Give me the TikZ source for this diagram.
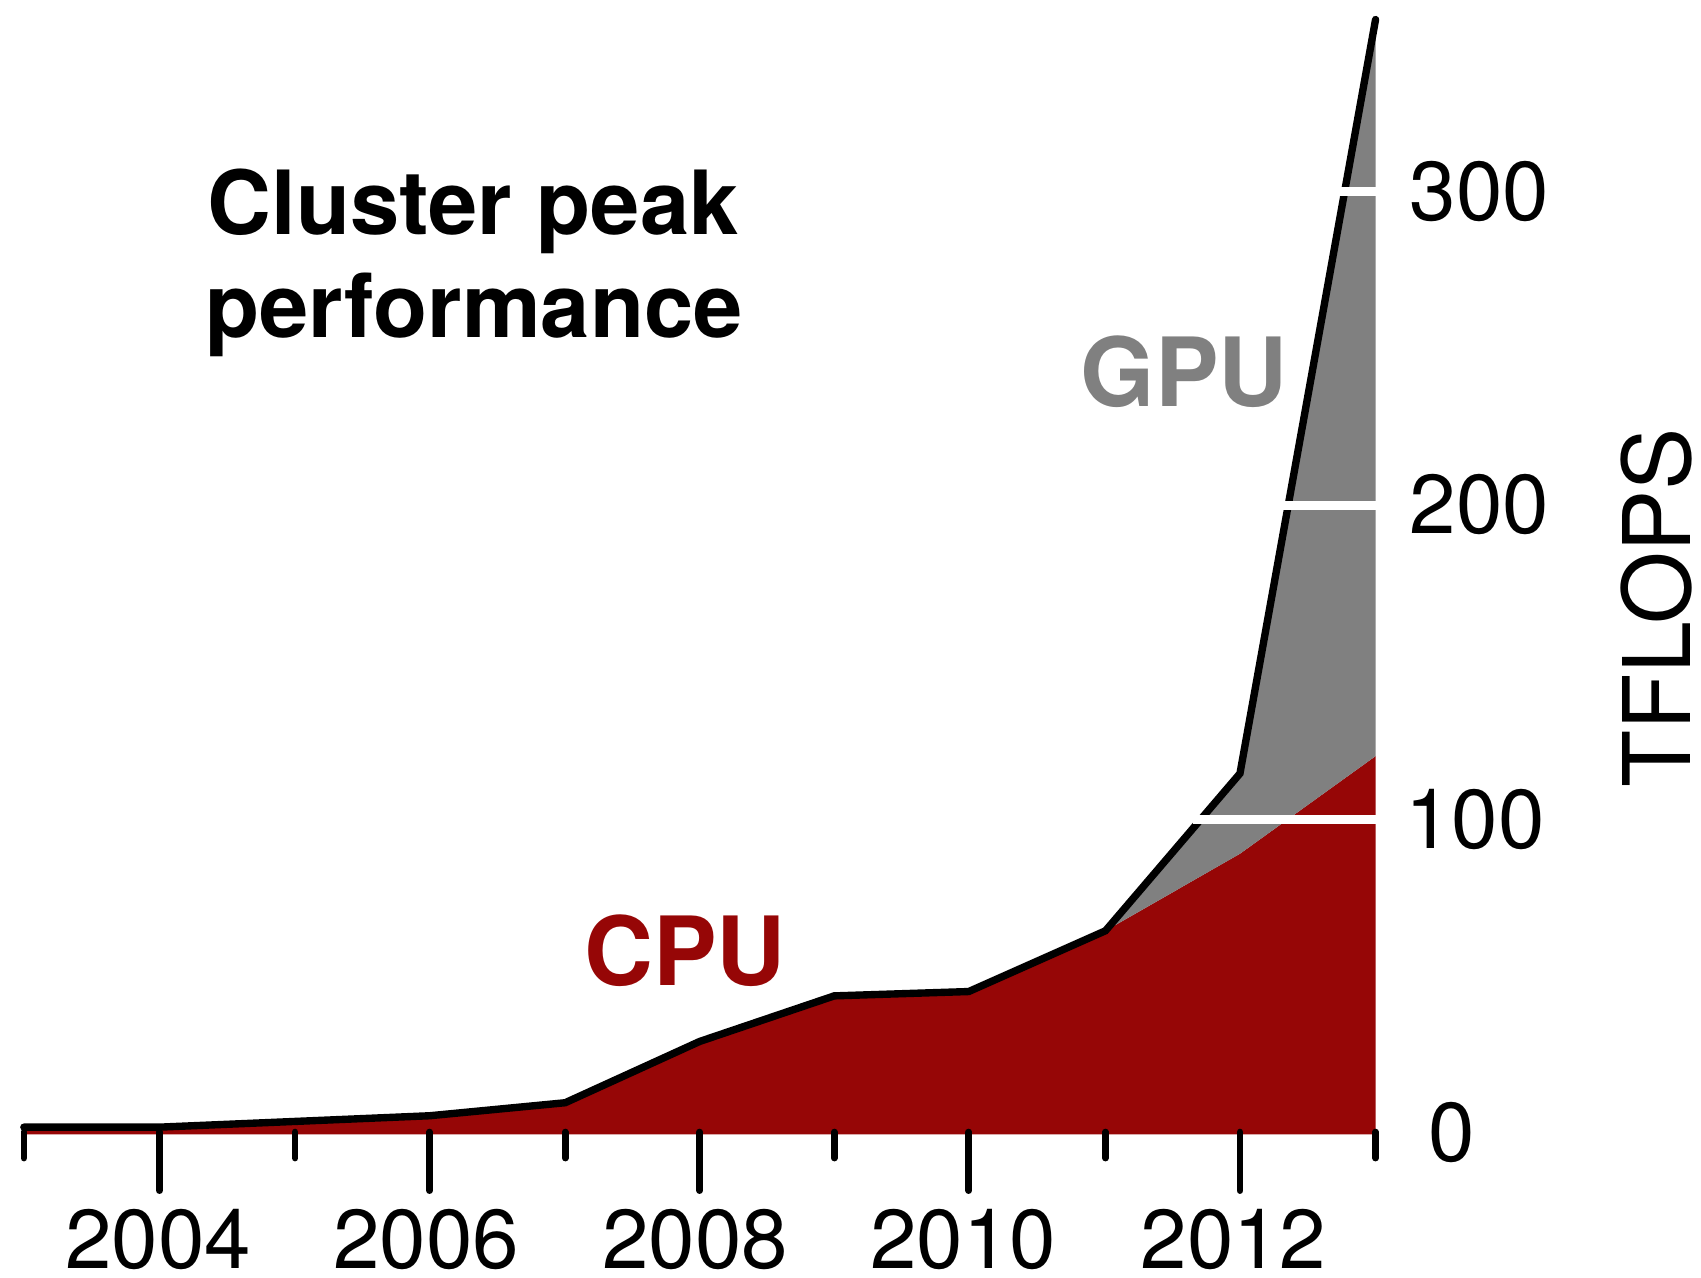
\documentclass[tikz,border=0pt]{standalone}
\usepackage{fontspec}
\setmainfont{TeX Gyre Heros}
\definecolor{cpured}{RGB}{150,6,6}
\definecolor{gpugray}{RGB}{128,128,128}
\begin{document}
\begin{tikzpicture}[x=0.5pt,y=-0.5pt,
  dataline/.style={line width=3.4pt, line cap=round, line join=miter},
  tickmark/.style={line width=3.1pt, line cap=round},
  gridwhite/.style={white, line width=4pt},
  ticklab/.style={font=\fontsize{38.5}{38.5}\selectfont, inner sep=0pt},
  titlelab/.style={font=\bfseries\fontsize{40.8}{40.8}\selectfont, inner sep=0pt, anchor=base west},
  serieslab/.style={font=\bfseries\fontsize{44}{44}\selectfont, inner sep=0pt, anchor=base west}]
\useasboundingbox (0,0) rectangle (1568,1178);
% data points (total)
\coordinate (t03) at (22,1039);
\coordinate (t04) at (147,1039);
\coordinate (t06) at (396,1028.5);
\coordinate (t07) at (521,1016.5);
\coordinate (t08) at (645,960);
\coordinate (t09) at (769,918);
\coordinate (t10) at (893,914);
\coordinate (t11) at (1019,858);
\coordinate (t12) at (1143,713);
\coordinate (t13) at (1268,18);
% cpu part
\coordinate (c12) at (1143,787);
\coordinate (c13) at (1268,697);
\coordinate (b03) at (22,1045.7);
\coordinate (b13) at (1268,1045.7);
% fills
\fill[cpured] (b03) -- (t03) -- (t04) -- (t06) -- (t07) -- (t08) -- (t09) -- (t10) -- (t11) -- (c12) -- (c13) -- (b13) -- cycle;
\fill[gpugray] (t11) -- (t12) -- (t13) -- (c13) -- (c12) -- cycle;
% total line
\draw[dataline] (t03) -- (t04) -- (t06) -- (t07) -- (t08) -- (t09) -- (t10) -- (t11) -- (t12) -- (t13);
% white grid lines
\draw[gridwhite] (1100,755.5) -- (1268,755.5);
\draw[gridwhite] (1183,466) -- (1268,466);
\draw[gridwhite] (1235,176.5) -- (1268,176.5);
% x ticks
\foreach \xx in {22,272,521,769,1019,1268}
  \draw[tickmark] (\xx,1043.5) -- (\xx,1067.5);
\foreach \xx in {147,396,645,893,1143}
  \draw[tickmark] (\xx,1043.5) -- (\xx,1097.5);
% year labels
\node[ticklab, anchor=base] (y2004) at (146,1169) {2004};
\node[ticklab, anchor=base] (y2006) at (393,1169) {2006};
\node[ticklab, anchor=base] (y2008) at (641,1169) {2008};
\node[ticklab, anchor=base] (y2010) at (888,1169) {2010};
\node[ticklab, anchor=base] (y2012) at (1137,1169) {2012};
% value labels
\node[ticklab, anchor=base west] (v0) at (1316,1071) {0};
\node[ticklab, anchor=base west] (v100) at (1295,782) {100};
\node[ticklab, anchor=base west] (v200) at (1299,492) {200};
\node[ticklab, anchor=base west] (v300) at (1299,203) {300};
\node[rotate=90, inner sep=0pt, font=\fontsize{43}{43}\selectfont] (ylab) at (1527,560) {TFLOPS};
% titles
\node[titlelab] (title1) at (191,216) {Cluster peak};
\node[titlelab] (title2) at (189,311) {performance};
\node[serieslab, text=gpugray] (gpu) at (996,375) {GPU};
\node[serieslab, text=cpured] (cpu) at (538,908) {CPU};
\end{tikzpicture}
\end{document}
